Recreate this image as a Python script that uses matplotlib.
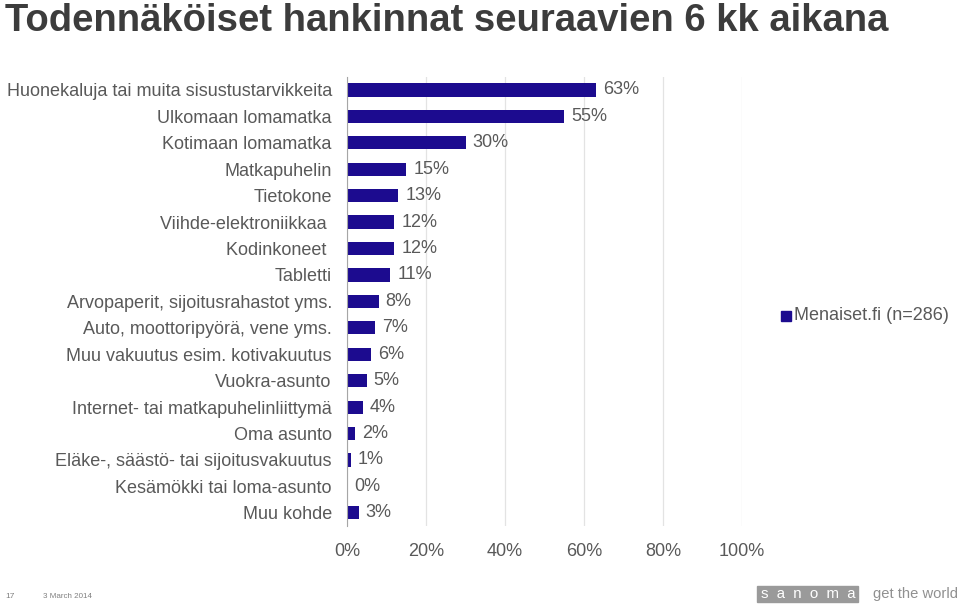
import matplotlib.pyplot as plt
import numpy as np
from matplotlib.patches import Rectangle

# data
categories = ['Huonekaluja tai muita sisustustarvikkeita', 'Ulkomaan lomamatka', 'Kotimaan lomamatka',
              'Matkapuhelin', 'Tietokone', 'Viihde-elektroniikkaa ', 'Kodinkoneet ', 'Tabletti',
              'Arvopaperit, sijoitusrahastot yms.', 'Auto, moottoripyörä, vene yms.',
              'Muu vakuutus esim. kotivakuutus', 'Vuokra-asunto', 'Internet- tai matkapuhelinliittymä',
              'Oma asunto', 'Eläke-, säästö- tai sijoitusvakuutus', 'Kesämökki tai loma-asunto', 'Muu kohde']
values = [63, 55, 30, 15, 13, 12, 12, 11, 8, 7, 6, 5, 4, 2, 1, 0, 3]
xticks = [0, 20, 40, 60, 80, 100]
series_name = 'Menaiset.fi (n=286)'

plt.rcParams['font.family'] = ['Liberation Sans', 'DejaVu Sans']
bar_color = '#1c0b8f'
text_gray = '#595959'

fig = plt.figure(figsize=(9.6, 6.04), dpi=100)
ax = fig.add_axes([0.3615, 0.129, 0.4115, 0.744])

y = np.arange(len(categories))
ax.barh(y, values, height=0.5, color=bar_color)
for yi, v in zip(y, values):
    ax.annotate(f'{v}%', (v, yi), xytext=(5, 0), textcoords='offset points',
                va='center', ha='left', fontsize=13, color=text_gray)

ax.set_ylim(len(categories) - 0.5, -0.5)
ax.set_xlim(0, 100)
ax.set_yticks(y, categories, fontsize=13, color=text_gray)
ax.set_xticks(xticks, [f'{t}%' for t in xticks], fontsize=13, color=text_gray)
ax.tick_params(axis='y', length=0, pad=11)
ax.tick_params(axis='x', length=0, pad=12)
ax.xaxis.grid(True, color='#e3e3e3', linewidth=0.9)
ax.set_axisbelow(True)
for s in ['top', 'right', 'bottom']:
    ax.spines[s].set_visible(False)
ax.spines['left'].set_color('#a6a6a6')

# legend
fig.patches.append(Rectangle((781 / 960, 1 - 321 / 604), 10 / 960, 10 / 604,
                             transform=fig.transFigure, color=bar_color))
fig.text(794 / 960, 1 - 316 / 604, series_name, fontsize=13, color=text_gray, va='center')

# title
fig.text(5 / 960, 1 - 31 / 604, 'Todennäköiset hankinnat seuraavien 6 kk aikana',
         fontsize=27.5, fontweight='bold', color='#3c3c3c', va='baseline')

# footer
fig.text(5 / 960, 1 - 597 / 604, '17', fontsize=6, color='#808080', va='center')
fig.text(43 / 960, 1 - 597 / 604, '3 March 2014', fontsize=5.8, color='#808080', va='center')
fig.patches.append(Rectangle((757 / 960, 1 - 602 / 604), 101 / 960, 16 / 604,
                             transform=fig.transFigure, color='#9a9a9a'))
fig.text(808 / 960, 1 - 594 / 604, 's  a  n  o  m  a', fontsize=10.8, color='white',
         ha='center', va='center')
fig.text(873 / 960, 1 - 594 / 604, 'get the world', fontsize=10.6, color='#909090', va='center')

plt.savefig('out.png', dpi=100)
